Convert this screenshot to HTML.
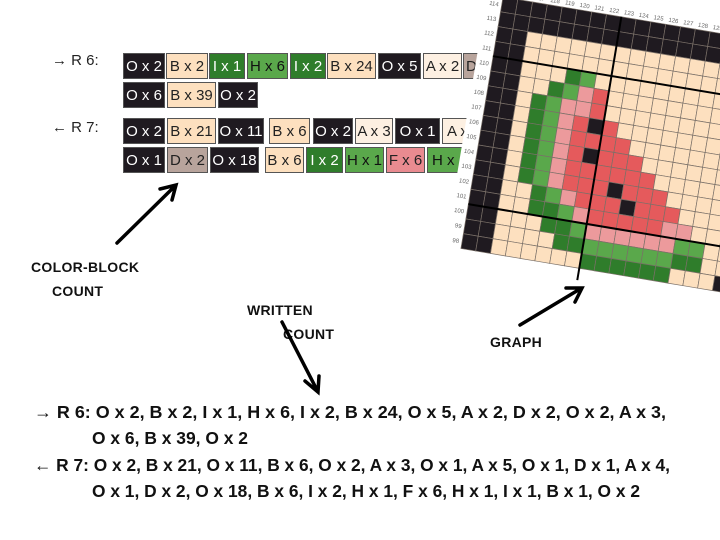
<!DOCTYPE html>
<html><head><meta charset="utf-8"><style>
body{margin:0;width:720px;height:540px;background:#fff;overflow:hidden;position:relative;font-family:"Liberation Sans",sans-serif}
.b{position:absolute;height:26px;line-height:26px;font-size:15px;text-align:center;box-sizing:border-box;border:1px solid #555;color:#222;white-space:nowrap;overflow:hidden}
.O{background:#1f1a20;color:#fff}.B{background:#fde0bf}.I{background:#2f7d2b;color:#fff}.H{background:#5aa84b;color:#111}
.A{background:#fdf0e2}.D{background:#b8a49c}.F{background:#e98b90}
.lab{position:absolute;font-size:15px;color:#222}
.hand{position:absolute;font-weight:bold;font-size:14px;color:#111;letter-spacing:0.3px}
</style></head><body>

<div class="lab" style="left:52px;top:52px">→ R 6:</div>
<div class="lab" style="left:52px;top:119px">← R 7:</div>

<div class="b O" style="left:123px;top:53px;width:42px">O x 2</div>
<div class="b B" style="left:166px;top:53px;width:42px">B x 2</div>
<div class="b I" style="left:209px;top:53px;width:36px">I x 1</div>
<div class="b H" style="left:247px;top:53px;width:41px">H x 6</div>
<div class="b I" style="left:290px;top:53px;width:36px">I x 2</div>
<div class="b B" style="left:327px;top:53px;width:49px">B x 24</div>
<div class="b O" style="left:378px;top:53px;width:43px">O x 5</div>
<div class="b A" style="left:423px;top:53px;width:39px">A x 2</div>
<div class="b D" style="left:463px;top:53px;width:30px;text-align:left;padding-left:2px">D</div>

<div class="b O" style="left:123px;top:82px;width:42px">O x 6</div>
<div class="b B" style="left:167px;top:82px;width:49px">B x 39</div>
<div class="b O" style="left:218px;top:82px;width:40px">O x 2</div>

<div class="b O" style="left:123px;top:118px;width:42px">O x 2</div>
<div class="b B" style="left:167px;top:118px;width:49px">B x 21</div>
<div class="b O" style="left:218px;top:118px;width:46px">O x 11</div>
<div class="b B" style="left:269px;top:118px;width:41px">B x 6</div>
<div class="b O" style="left:313px;top:118px;width:40px">O x 2</div>
<div class="b A" style="left:355px;top:118px;width:38px">A x 3</div>
<div class="b O" style="left:395px;top:118px;width:45px">O x 1</div>
<div class="b A" style="left:442px;top:118px;width:40px;text-align:left;padding-left:4px">A x</div>

<div class="b O" style="left:123px;top:147px;width:42px">O x 1</div>
<div class="b D" style="left:167px;top:147px;width:41px">D x 2</div>
<div class="b O" style="left:210px;top:147px;width:49px">O x 18</div>
<div class="b B" style="left:265px;top:147px;width:39px">B x 6</div>
<div class="b I" style="left:306px;top:147px;width:37px">I x 2</div>
<div class="b H" style="left:345px;top:147px;width:39px">H x 1</div>
<div class="b F" style="left:386px;top:147px;width:39px">F x 6</div>
<div class="b H" style="left:427px;top:147px;width:40px;text-align:left;padding-left:4px">H x</div>

<svg id="g" width="720" height="540" style="position:absolute;left:0;top:0"></svg>

<div class="hand" style="left:31px;top:259px">COLOR-BLOCK</div>
<div class="hand" style="left:52px;top:283px">COUNT</div>
<div class="hand" style="left:247px;top:302px">WRITTEN</div>
<div class="hand" style="left:283px;top:326px">COUNT</div>
<div class="hand" style="left:490px;top:334px">GRAPH</div>

<svg width="720" height="540" style="position:absolute;left:0;top:0" font-family="Liberation Sans, sans-serif" font-weight="bold" font-size="17.5" fill="#111">
<g stroke="#000" stroke-width="3.5" fill="none" stroke-linecap="round">
<path d="M117 243 L174 187 M160 189 L176 185 L172 200"/>
<path d="M282 322 L317 390 M305 381 L318 392 L319 376"/>
<path d="M520 325 L580 289 M566 288 L582 288 L575 302"/>
</g>
<text x="34" y="418" textLength="632" lengthAdjust="spacingAndGlyphs">→ R 6: O x 2, B x 2, I x 1, H x 6, I x 2, B x 24, O x 5, A x 2, D x 2, O x 2, A x 3,</text>
<text x="92" y="444" textLength="156" lengthAdjust="spacingAndGlyphs">O x 6, B x 39, O x 2</text>
<text x="34" y="471" textLength="636" lengthAdjust="spacingAndGlyphs">← R 7: O x 2, B x 21, O x 11, B x 6, O x 2, A x 3, O x 1, A x 5, O x 1, D x 1, A x 4,</text>
<text x="92" y="497" textLength="548" lengthAdjust="spacingAndGlyphs">O x 1, D x 2, O x 18, B x 6, I x 2, H x 1, F x 6, H x 1, I x 1, B x 1, O x 2</text>
</svg>

<script>
var C={K:'#1f1a20',b:'#fde0bf',d:'#2f7d2b',l:'#5aa84b',p:'#ec9a9c',r:'#e55a5c',g:'#b8a49c'};
var R=17,N=21,S=15;
var grid=[];
for(var r=0;r<R;r++){grid[r]=[];for(var c=0;c<N;c++){grid[r][c]=(r<2||c<2)?'K':'b';}}
function set(r,a){for(var k in a){grid[r][k]=a[k];}}
set(4,{5:'d',6:'l'});
set(5,{4:'d',5:'l',6:'p',7:'r'});
set(6,{3:'d',4:'l',5:'p',6:'p',7:'r'});
set(7,{3:'d',4:'l',5:'p',6:'r',7:'K',8:'r'});
set(8,{3:'d',4:'l',5:'p',6:'r',7:'r',8:'r',9:'r'});
set(9,{3:'d',4:'l',5:'p',6:'r',7:'K',8:'r',9:'r',10:'r'});
set(10,{3:'d',4:'l',5:'p',6:'r',7:'r',8:'r',9:'r',10:'r',11:'r'});
set(11,{3:'d',4:'l',5:'p',6:'r',7:'r',8:'r',9:'K',10:'r',11:'r',12:'r'});
set(12,{4:'d',5:'l',6:'p',7:'r',8:'r',9:'r',10:'K',11:'r',12:'r',13:'r'});
set(13,{4:'d',5:'d',6:'l',7:'p',8:'r',9:'r',10:'r',11:'r',12:'r',13:'p',14:'p'});
set(14,{5:'d',6:'d',7:'l',8:'p',9:'p',10:'p',11:'p',12:'p',13:'p',14:'l',15:'l'});
set(15,{6:'d',7:'d',8:'l',9:'l',10:'l',11:'l',12:'l',13:'l',14:'d',15:'d'});
set(16,{8:'d',9:'d',10:'d',11:'d',12:'d',13:'d',17:'K',18:'g'});
var s='<g transform="translate(503,-3) rotate(9.5)">';
s+='<rect x="-16" y="-14" width="400" height="290" fill="#fff"/>';
for(var r=0;r<R;r++)for(var c=0;c<N;c++){s+='<rect x="'+c*S+'" y="'+r*S+'" width="'+S+'" height="'+S+'" fill="'+C[grid[r][c]]+'" stroke="#7a7068" stroke-width="0.7"/>';}
s+='<line x1="120" y1="0" x2="120" y2="'+(R*S+12)+'" stroke="#000" stroke-width="2"/>';
s+='<line x1="0" y1="60" x2="'+N*S+'" y2="60" stroke="#000" stroke-width="2"/>';
s+='<line x1="0" y1="210" x2="'+N*S+'" y2="210" stroke="#000" stroke-width="2"/>';
for(var r=0;r<R;r++){s+='<text x="-3" y="'+(r*S+10)+'" font-size="6" fill="#666" text-anchor="end" font-family="Liberation Sans">'+(114-r)+'</text>';}
for(var c=0;c<N;c++){s+='<text x="'+(c*S+7)+'" y="-3" font-size="6" fill="#666" text-anchor="middle" font-family="Liberation Sans">'+(115+c)+'</text>';}
s+='</g>';
document.getElementById('g').innerHTML=s;
</script>
</body></html>
